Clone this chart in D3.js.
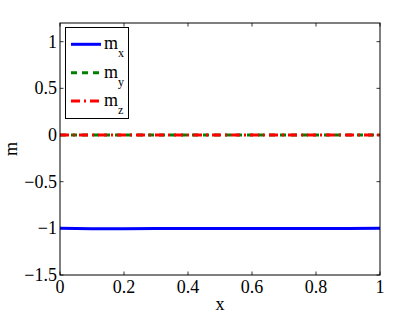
<!DOCTYPE html>
<html>
<head>
<meta charset="utf-8">
<script src="https://cdn.jsdelivr.net/npm/d3@7"></script>
<style>
  body { margin: 0; background: #fff; }
</style>
</head>
<body>
<div id="chart"></div>
<script>
// --- data ---
const xs = [0, 0.1, 0.2, 0.3, 0.4, 0.5, 0.6, 0.7, 0.8, 0.9, 1];
const mx = [-1, -1.004, -1.004, -1.003, -1.001, -1.001, -1.003, -1.003, -1.003, -1.001, -1];
const my = [0, 0, 0, 0, 0, 0, 0, 0, 0, 0, 0];
const mz = [0, 0, 0, 0, 0, 0, 0, 0, 0, 0, 0];
const xTicks = [0, 0.2, 0.4, 0.6, 0.8, 1];
const yTicks = [-1.5, -1, -0.5, 0, 0.5, 1];

const series = [
  { name: 'x', values: mx, color: '#0000ff', dash: null },
  { name: 'y', values: my, color: '#008000', dash: '6,5' },
  { name: 'z', values: mz, color: '#ff0000', dash: '9,4,2,4' },
];

const W = 420, H = 316;
const M = { left: 60, right: 40, top: 23, bottom: 41 };
const FONT = 'Liberation Serif';

const svg = d3.select('#chart').append('svg')
  .attr('width', W).attr('height', H);

const x = d3.scaleLinear().domain([0, 1]).range([M.left, W - M.right]);
const y = d3.scaleLinear().domain([-1.5, 1.2]).range([H - M.bottom, M.top]);

// ticks, inward on all four sides (matlab box)
const tickLen = 3.5;
const tk = svg.append('g').attr('stroke', '#000').attr('stroke-width', 0.8);
xTicks.forEach(t => {
  tk.append('line').attr('x1', x(t)).attr('x2', x(t))
    .attr('y1', y.range()[0]).attr('y2', y.range()[0] - tickLen);
  tk.append('line').attr('x1', x(t)).attr('x2', x(t))
    .attr('y1', y.range()[1]).attr('y2', y.range()[1] + tickLen);
});
yTicks.forEach(t => {
  tk.append('line').attr('y1', y(t)).attr('y2', y(t))
    .attr('x1', x.range()[0]).attr('x2', x.range()[0] + tickLen);
  tk.append('line').attr('y1', y(t)).attr('y2', y(t))
    .attr('x1', x.range()[1]).attr('x2', x.range()[1] - tickLen);
});

// lines
const line = d3.line().x((d, i) => x(xs[i])).y(d => y(d));
series.forEach(s => {
  svg.append('path')
    .datum(s.values)
    .attr('d', line)
    .attr('fill', 'none')
    .attr('stroke', s.color)
    .attr('stroke-width', 3)
    .attr('stroke-dasharray', s.dash);
});

// axes box
svg.append('rect')
  .attr('x', M.left).attr('y', M.top)
  .attr('width', W - M.left - M.right).attr('height', H - M.top - M.bottom)
  .attr('fill', 'none').attr('stroke', '#000').attr('stroke-width', 1);

// tick labels
const fmt = v => String(v).replace('-', '\u2212');
svg.append('g').selectAll('text')
  .data(xTicks).join('text')
  .attr('x', d => x(d)).attr('y', H - M.bottom + 18)
  .attr('text-anchor', 'middle')
  .attr('font-family', FONT).attr('font-size', 18)
  .text(fmt);
svg.append('g').selectAll('text')
  .data(yTicks).join('text')
  .attr('x', M.left - 3).attr('y', d => y(d) + 6)
  .attr('text-anchor', 'end')
  .attr('font-family', FONT).attr('font-size', 18)
  .text(fmt);

// axis labels
svg.append('text')
  .attr('x', (x.range()[0] + x.range()[1]) / 2).attr('y', 310)
  .attr('text-anchor', 'middle')
  .attr('font-family', FONT).attr('font-size', 18).text('x');
svg.append('text')
  .attr('transform', `translate(17, ${(y.range()[0] + y.range()[1]) / 2}) rotate(-90)`)
  .attr('text-anchor', 'middle')
  .attr('font-family', FONT).attr('font-size', 18).text('m');

// legend
const lg = svg.append('g');
lg.append('rect')
  .attr('x', 65.5).attr('y', 27.5).attr('width', 63).attr('height', 91)
  .attr('fill', '#fff').attr('stroke', '#000').attr('stroke-width', 1);
series.forEach((s, i) => {
  const yy = 44.3 + i * 28.4;
  lg.append('line')
    .attr('x1', 71).attr('x2', 101).attr('y1', yy).attr('y2', yy)
    .attr('stroke', s.color).attr('stroke-width', 3)
    .attr('stroke-dasharray', s.dash);
  const t = lg.append('text').attr('x', 104).attr('y', yy + 5)
    .attr('font-family', FONT).attr('font-size', 18);
  t.append('tspan').text('m');
  t.append('tspan').attr('dy', 8).attr('font-size', 12).text(s.name);
});
</script>
</body>
</html>
